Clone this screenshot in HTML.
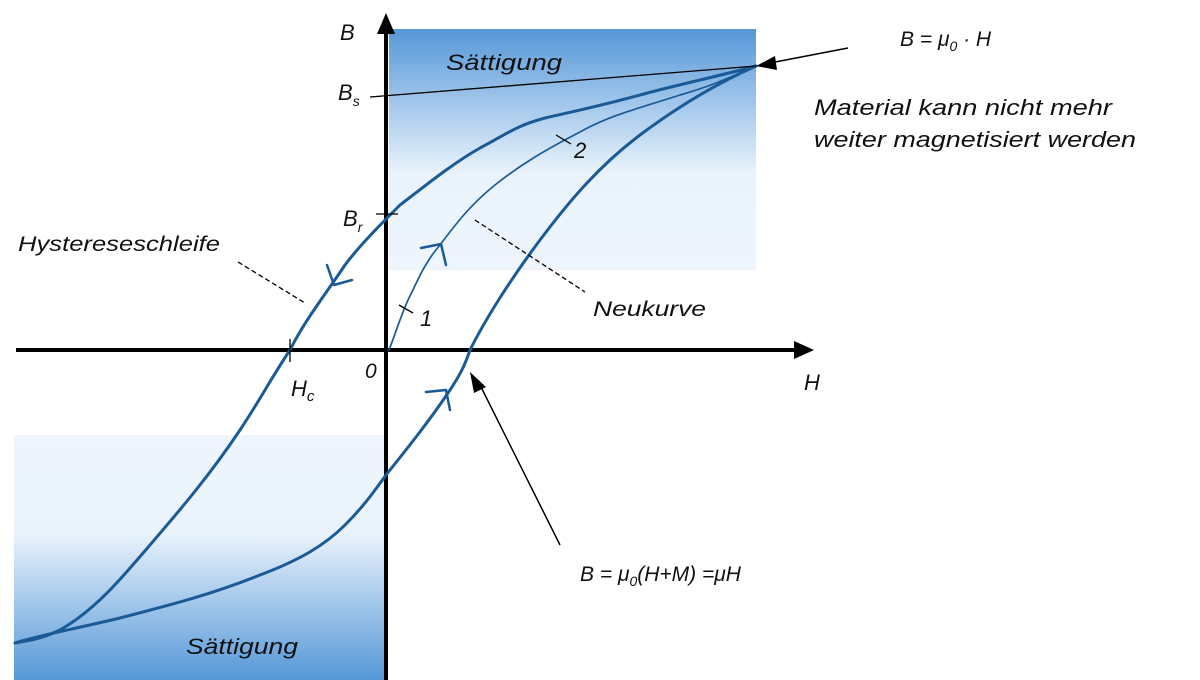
<!DOCTYPE html>
<html><head><meta charset="utf-8"><style>
html,body{margin:0;padding:0;background:#fff}
svg{display:block}
text{font-family:"Liberation Sans",sans-serif;font-style:italic;fill:#111}
</style></head><body>
<svg width="1200" height="680" viewBox="0 0 1200 680" xmlns="http://www.w3.org/2000/svg">
<defs>
<linearGradient id="gt" x1="0" y1="0" x2="0" y2="1">
<stop offset="0" stop-color="#5597d8"/><stop offset="0.6" stop-color="#eaf3fc"/><stop offset="1" stop-color="#eef5fc"/>
</linearGradient>
<linearGradient id="gb" x1="0" y1="0" x2="0" y2="1">
<stop offset="0" stop-color="#eef5fc"/><stop offset="0.4" stop-color="#eaf3fc"/><stop offset="1" stop-color="#5597d8"/>
</linearGradient>
</defs>
<rect x="389" y="29" width="367" height="241" fill="url(#gt)"/>
<rect x="14" y="435" width="370" height="245" fill="url(#gb)"/>
<line x1="386" y1="28" x2="386" y2="680" stroke="#000" stroke-width="4"/>
<polygon points="386,13 377,34 395,34" fill="#000"/>
<line x1="16" y1="350" x2="798" y2="350" stroke="#000" stroke-width="4"/>
<polygon points="814,350 794,341 794,359" fill="#000"/>
<g fill="none" stroke="#1a5a96" stroke-linejoin="round" stroke-linecap="round">
<path stroke-width="3" d="M756,66 C720,76 680,84 640,95 C600,106 580,110 545,118 C515,126 505,135 480,148 C450,165 420,190 400,205 C380,225 360,245 345,265 C325,295 305,320 290,350 C270,380 260,400 240,430 C210,475 180,510 150,545 C120,580 95,610 60,630 C40,640 25,641 15,643"/>
<path stroke-width="3" d="M15,643 C40,635 70,630 120,618 C170,605 210,595 260,575 C300,560 325,545 345,525 C365,505 375,490 386,475 C410,445 430,420 450,390 C460,375 465,365 470,350 C485,320 510,280 540,240 C570,200 600,165 640,135 C680,105 720,82 756,66"/>
<path stroke-width="1.7" d="M389,350 C395,335 400,318 408,300 C418,280 425,262 440,245 C455,225 470,205 495,185 C520,165 545,150 580,132 C610,115 640,108 680,95 C715,85 735,75 756,66"/>
<path stroke-width="2.5" d="M327,265 L334,285 L352,280"/>
<path stroke-width="2.5" d="M421,248 L441,244 L446,265"/>
<path stroke-width="2.5" d="M426,392 L446,390 L450,410"/>
</g>
<g stroke="#000" fill="none">
<line x1="370" y1="97" x2="756" y2="66" stroke-width="1.3"/>
<line x1="376" y1="214" x2="398" y2="214" stroke-width="1.3"/>
<line x1="290" y1="339" x2="290" y2="362" stroke-width="1.3"/>
<line x1="399" y1="305" x2="413" y2="313" stroke-width="1.3"/>
<line x1="556" y1="135" x2="571" y2="144" stroke-width="1.3"/>
<line x1="238" y1="262" x2="305" y2="303" stroke-width="1.3" stroke-dasharray="5,3"/>
<line x1="475" y1="220" x2="585" y2="292" stroke-width="1.3" stroke-dasharray="5,3"/>
<line x1="848" y1="48" x2="770" y2="63" stroke-width="1.5"/>
<line x1="560" y1="545" x2="480" y2="385" stroke-width="1.5"/>
</g>
<polygon points="756,66 775,56 777,70" fill="#000"/>
<polygon points="470,372 474,393 486,387" fill="#000"/>
<text x="340" y="40" font-size="22">B</text>
<text x="446" y="70" font-size="22" textLength="116" lengthAdjust="spacingAndGlyphs">Sättigung</text>
<text x="338" y="100" font-size="22">B<tspan font-size="14" dy="6">s</tspan></text>
<text x="343" y="226" font-size="22">B<tspan font-size="14" dy="6">r</tspan></text>
<text x="574" y="158" font-size="22">2</text>
<text x="420" y="326" font-size="22">1</text>
<text x="365" y="378" font-size="21">0</text>
<text x="291" y="396" font-size="22">H<tspan font-size="15" dy="5">c</tspan></text>
<text x="804" y="390" font-size="22">H</text>
<text x="18" y="251" font-size="21" textLength="202" lengthAdjust="spacingAndGlyphs">Hystereseschleife</text>
<text x="593" y="316" font-size="21" textLength="113" lengthAdjust="spacingAndGlyphs">Neukurve</text>
<text x="900" y="46" font-size="21">B = μ<tspan font-size="14" dy="5">0</tspan><tspan dy="-5"> · H</tspan></text>
<text x="814" y="115" font-size="22" textLength="298" lengthAdjust="spacingAndGlyphs">Material kann nicht mehr</text>
<text x="814" y="147" font-size="22" textLength="322" lengthAdjust="spacingAndGlyphs">weiter magnetisiert werden</text>
<text x="580" y="581" font-size="21">B = μ<tspan font-size="14" dy="5">0</tspan><tspan dy="-5">(H+M)  =μH</tspan></text>
<text x="186" y="654" font-size="22" textLength="112" lengthAdjust="spacingAndGlyphs">Sättigung</text>
</svg>
</body></html>
